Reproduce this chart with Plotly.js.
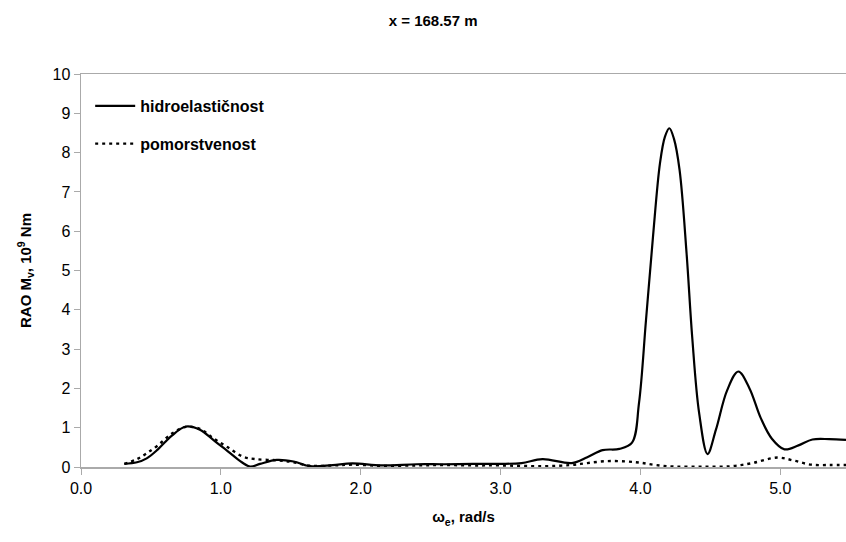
<!DOCTYPE html>
<html>
<head>
<meta charset="utf-8">
<script src="https://cdn.plot.ly/plotly-3.0.1.min.js"></script>
<style>html,body{margin:0;padding:0;background:#fff;}#chart{width:846px;height:542px;}</style>
</head>
<body>
<div id="chart"></div>
<script>
const omegaHydro = [0.31,0.40,0.47,0.55,0.65,0.75,0.85,0.95,1.05,1.15,1.21,1.28,1.40,1.52,1.64,1.80,1.94,2.15,2.40,2.60,2.80,3.00,3.15,3.30,3.51,3.62,3.73,3.85,3.94,3.99,4.04,4.09,4.14,4.175,4.207,4.24,4.28,4.33,4.37,4.42,4.48,4.54,4.62,4.70,4.78,4.86,4.94,5.03,5.13,5.23,5.35,5.47];
const raoHydro   = [0.08,0.12,0.22,0.45,0.80,1.03,0.95,0.68,0.40,0.12,0.01,0.08,0.18,0.14,0.02,0.05,0.09,0.04,0.07,0.07,0.08,0.08,0.10,0.20,0.10,0.25,0.43,0.46,0.62,1.63,3.74,5.86,7.73,8.40,8.62,8.35,7.56,5.44,3.32,1.37,0.33,0.95,1.95,2.43,2.00,1.25,0.72,0.45,0.55,0.70,0.71,0.69];

const omegaSea = [0.31,0.40,0.47,0.55,0.65,0.75,0.85,0.95,1.05,1.16,1.25,1.40,1.52,1.64,1.80,1.94,2.15,2.40,2.60,2.80,3.00,3.30,3.50,3.62,3.76,3.90,4.00,4.11,4.25,4.45,4.65,4.80,4.98,5.10,5.22,5.35,5.47];
const raoSea   = [0.08,0.20,0.35,0.55,0.85,1.02,0.97,0.72,0.50,0.26,0.20,0.17,0.12,0.03,0.04,0.06,0.03,0.04,0.05,0.04,0.04,0.02,0.05,0.10,0.15,0.14,0.11,0.05,0.01,0.01,0.02,0.10,0.24,0.16,0.06,0.05,0.05];

const xTicks = [0,1,2,3,4,5];
const yTicks = [0,1,2,3,4,5,6,7,8,9,10];

const traces = [
  {x: omegaHydro, y: raoHydro, mode: 'lines', name: 'hidroelastičnost', legendgroup: 'a',
   line: {color: '#000', width: 2.2, shape: 'spline', smoothing: 1}},
  {x: omegaSea, y: raoSea, mode: 'lines', name: 'pomorstvenost', legendgroup: 'b',
   line: {color: '#000', width: 2.4, dash: '3px,4px', shape: 'spline', smoothing: 1}}
];

const fam = 'Liberation Sans, Arial, sans-serif';
const axisFont = {family: fam, size: 16, color: '#000'};
const layout = {
  width: 846, height: 542,
  margin: {l: 81, r: 0, t: 74, b: 75},
  paper_bgcolor: '#fff', plot_bgcolor: '#fff',
  title: {text: '<b>x = 168.57 m</b>', x: 0.512, xanchor: 'center', y: 0.962, yanchor: 'middle',
          font: {family: fam, size: 15, color: '#000'}},
  xaxis: {range: [0, 5.47], tickvals: xTicks, ticktext: xTicks.map(v => v.toFixed(1)),
          showgrid: false, zeroline: false, showline: true, linecolor: '#aaa', linewidth: 1.5,
          mirror: true, ticks: 'outside', ticklen: 6, tickcolor: '#aaa', tickfont: axisFont,
          title: {text: '<b>ω<sub>e</sub>, rad/s</b>', standoff: 16,
                  font: {family: fam, size: 15, color: '#000'}}},
  yaxis: {range: [0, 10], tickvals: yTicks, showgrid: false, zeroline: false,
          showline: true, linecolor: '#aaa', linewidth: 1.5,
          ticks: 'outside', ticklen: 6, tickcolor: '#aaa', tickfont: axisFont,
          title: {text: '<b>RAO M<sub>v</sub>, 10<sup>9</sup> Nm</b>', standoff: 17,
                  font: {family: fam, size: 15, color: '#000'}}},
  legend: {x: 0.012, y: 0.962, xanchor: 'left', yanchor: 'top', bgcolor: 'rgba(0,0,0,0)',
           font: {family: fam, size: 16, color: '#000', weight: 'bold'},
           traceorder: 'grouped', tracegroupgap: 14, itemwidth: 40},
  showlegend: true
};

Plotly.newPlot('chart', traces, layout, {displayModeBar: false, staticPlot: true});
</script>
</body>
</html>
